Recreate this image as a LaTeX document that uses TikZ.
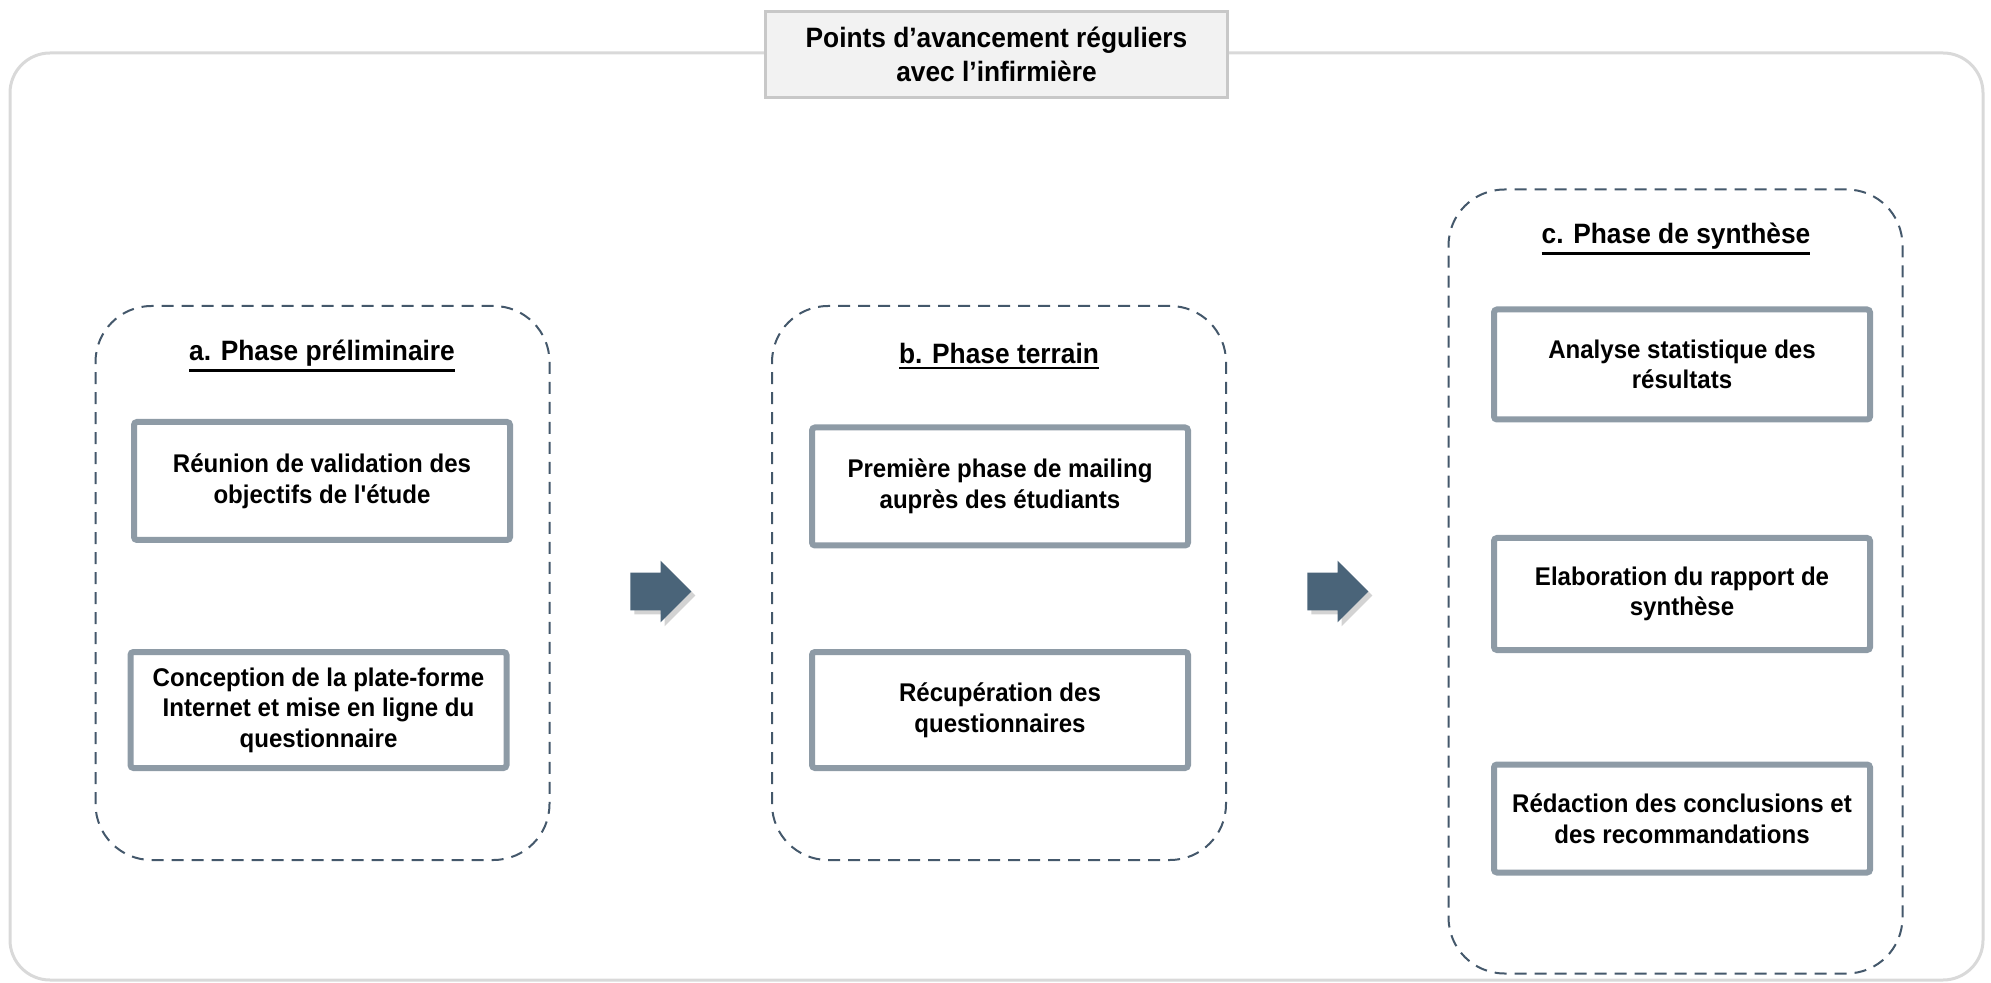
\documentclass[tikz,border=0pt]{standalone}
\usepackage{fontspec}
\setmainfont{Liberation Sans}[FakeStretch=0.94,Ligatures=TeXOff]
\usepackage{tikz}
\usetikzlibrary{shapes.arrows,shadows}

\definecolor{framegray}{HTML}{D9D9D9}
\definecolor{labelfill}{HTML}{F2F2F2}
\definecolor{labeldraw}{HTML}{C8C8C8}
\definecolor{boxgray}{HTML}{8E9BA6}
\definecolor{phaseblue}{HTML}{44586B}
\definecolor{arrowblue}{HTML}{4A6479}

\newcommand{\phaseul}[1]{\leavevmode\vtop{\hbox{#1}\kern1.6pt\hrule height 1.3pt}}

\begin{document}
\begin{tikzpicture}[x=0.5pt,y=-0.5pt,
	taskbox/.style={draw=boxgray,line width=3pt,fill=white,rounded corners=1.5pt,
		minimum width=188pt,align=center,
		font=\bfseries\fontsize{12.8}{15.3}\selectfont},
	phasebox/.style={draw=phaseblue,line width=1pt,dash pattern=on 6pt off 4pt,
		rounded corners=28pt,minimum width=227pt},
	phasetitle/.style={font=\bfseries\fontsize{14}{17}\selectfont},
	stepar/.style={single arrow,fill=arrowblue,minimum height=30.5pt,minimum width=30.5pt,
		single arrow head extend=6pt,inner sep=9.25pt,
		drop shadow={shadow xshift=2pt,shadow yshift=-2pt,opacity=.35}}]
	\useasboundingbox (0,0) rectangle (1991,983);
	% cadre general
	\draw[framegray,line width=1.5pt,rounded corners=20pt] (10,53) rectangle (1983,980);
	\node[draw=labeldraw,fill=labelfill,line width=1.5pt,minimum width=231pt,minimum height=43pt,
		align=center,font=\bfseries\fontsize{14}{17}\selectfont] (suivi) at (996.5,54.5)
		{Points d’avancement réguliers\\avec l’infirmière};
	% phases
	\node[phasebox,minimum height=277pt] (pa) at (322.5,583) {};
	\node[phasebox,minimum height=277pt] (pb) at (999,583) {};
	\node[phasebox,minimum height=392pt] (pc) at (1675.5,581.5) {};
	\node[phasetitle] (ta) at (322,356) {\phaseul{a. Phase préliminaire}};
	\node[phasetitle] (tb) at (999,356) {\phaseul{b. Phase terrain}};
	\node[phasetitle] (tc) at (1676,239) {\phaseul{c. Phase de synthèse}};
	% etapes
	\node[taskbox,minimum height=59pt] (a1) at (322,481) {Réunion de validation des\\objectifs de l'étude};
	\node[taskbox,minimum height=58pt] (a2) at (318.5,710) {Conception de la plate-forme\\Internet et mise en ligne du\\questionnaire};
	\node[taskbox,minimum height=59pt] (b1) at (1000,486.5) {Première phase de mailing\\auprès des étudiants};
	\node[taskbox,minimum height=58pt] (b2) at (1000,710) {Récupération des\\questionnaires};
	\node[taskbox,minimum height=55pt] (c1) at (1682,364.5) {Analyse statistique des\\résultats};
	\node[taskbox,minimum height=56pt] (c2) at (1682,594) {Elaboration du rapport de\\synthèse};
	\node[taskbox,minimum height=54pt] (c3) at (1682,818.5) {Rédaction des conclusions et\\des recommandations};
	% fleches
	\node[stepar] (ar1) at (651.5,591.5) {};
	\node[stepar] (ar2) at (1328.5,591.5) {};
\end{tikzpicture}
\end{document}
